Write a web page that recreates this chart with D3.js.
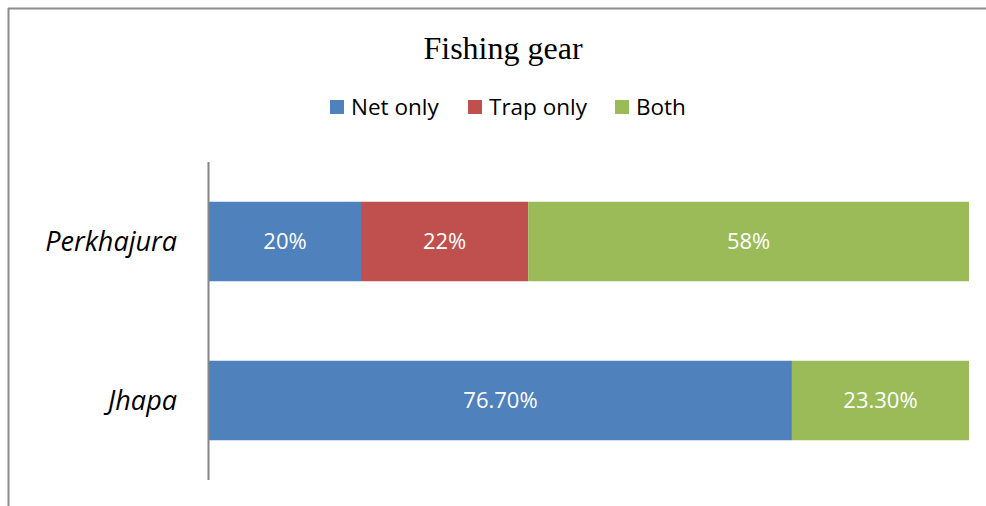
<!DOCTYPE html>
<html>
<head>
<meta charset="utf-8">
<script src="https://cdn.jsdelivr.net/npm/d3@7"></script>
<style>
  html, body { margin: 0; padding: 0; background: #fff; }
  svg { display: block; }
</style>
</head>
<body>
<script>
// Share of fishing gear used by site
const categories = ["Perkhajura", "Jhapa"];
const seriesNames = ["Net only", "Trap only", "Both"];
const netOnly  = [20, 76.7];
const trapOnly = [22, 0];
const both     = [58, 23.3];
const valueLabels = [
  ["20%", "22%", "58%"],
  ["76.70%", "", "23.30%"]
];
const colors = ["#4f81bd", "#c0504d", "#9bbb59"];

const W = 986, H = 506;
const svg = d3.select("body").append("svg").attr("width", W).attr("height", H);

// Frame edges (top and left)
svg.append("line").attr("x1", 8).attr("x2", W).attr("y1", 8.5).attr("y2", 8.5)
  .attr("stroke", "#8c8c8c").attr("stroke-width", 2);
svg.append("line").attr("x1", 8.5).attr("x2", 8.5).attr("y1", 8).attr("y2", H)
  .attr("stroke", "#8c8c8c").attr("stroke-width", 2);

// Title
svg.append("text").attr("x", 503).attr("y", 59).attr("text-anchor", "middle")
  .attr("font-family", "Liberation Serif, Times New Roman, serif")
  .attr("font-size", 32).attr("fill", "#000").text("Fishing gear");

// Legend
const legendX = [330, 468, 615];
const legend = svg.append("g");
seriesNames.forEach((name, i) => {
  legend.append("rect").attr("x", legendX[i]).attr("y", 100).attr("width", 14).attr("height", 14)
    .attr("fill", colors[i]);
  legend.append("text").attr("x", legendX[i] + 21).attr("y", 115)
    .attr("font-family", "Open Sans, sans-serif").attr("font-size", 22.5)
    .attr("fill", "#000").text(name);
});

// Scales
const x = d3.scaleLinear().domain([0, 100]).range([209, 969]);
const y = d3.scaleBand().domain(categories).range([162, 480]).paddingInner(0.5).paddingOuter(0.25);

const stackData = categories.map((c, i) => ({
  cat: c, "Net only": netOnly[i], "Trap only": trapOnly[i], "Both": both[i]
}));
const stacked = d3.stack().keys(seriesNames)(stackData);

stacked.forEach((layer, si) => {
  const g = svg.append("g");
  layer.forEach((d, ci) => {
    const w = x(d[1]) - x(d[0]);
    if (w <= 0) return;
    g.append("rect")
      .attr("x", x(d[0])).attr("y", y(d.data.cat))
      .attr("width", w).attr("height", y.bandwidth())
      .attr("fill", colors[si]);
    g.append("text")
      .attr("x", (x(d[0]) + x(d[1])) / 2)
      .attr("y", y(d.data.cat) + y.bandwidth() / 2)
      .attr("dy", "0.35em").attr("text-anchor", "middle")
      .attr("font-family", "Open Sans, sans-serif").attr("font-size", 22)
      .attr("fill", "#fff").text(valueLabels[ci][si]);
  });
});

// Category axis
svg.append("line").attr("x1", 208.5).attr("x2", 208.5).attr("y1", 162).attr("y2", 480)
  .attr("stroke", "#868686").attr("stroke-width", 2);
categories.forEach(c => {
  svg.append("text").attr("x", 177).attr("y", y(c) + y.bandwidth() / 2)
    .attr("dy", "0.35em").attr("text-anchor", "end")
    .attr("font-family", "Open Sans, sans-serif").attr("font-style", "italic")
    .attr("font-size", 27).attr("fill", "#000").text(c);
});
</script>
</body>
</html>
